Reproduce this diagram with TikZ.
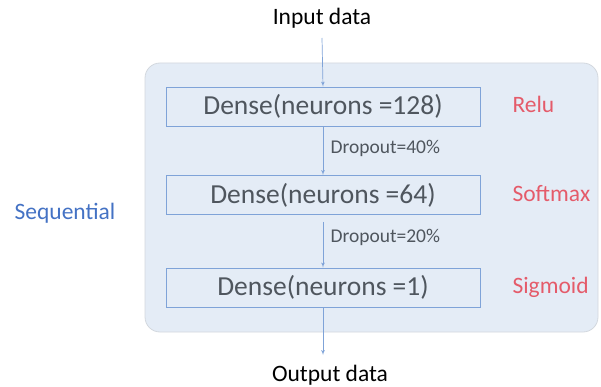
\documentclass[tikz,border=0pt]{standalone}
\usepackage{fontspec}
\setmainfont{Carlito}
\usepackage{tikz}
\usetikzlibrary{arrows,positioning}
\definecolor{seqblue}{HTML}{4472C4}
\definecolor{panelfill}{HTML}{E4ECF6}
\definecolor{panelgray}{HTML}{D3D8DE}
\definecolor{boxline}{HTML}{7FA3D8}
\definecolor{actred}{HTML}{E45B6A}
\definecolor{densegray}{HTML}{4F565E}
\tikzstyle{line} = [draw=boxline, line width=0.7pt, -latex']
\tikzstyle{dense} = [rectangle, draw=boxline, line width=0.8pt, fill=panelfill, minimum width=314pt, minimum height=39pt, text=densegray, font=\fontsize{27.5}{27.5}\selectfont]
\tikzstyle{act} = [anchor=west, text=actred, font=\fontsize{23.5}{23.5}\selectfont]
\tikzstyle{drop} = [anchor=west, text=densegray, font=\fontsize{19.5}{19.5}\selectfont]
\tikzstyle{io} = [text=black, font=\fontsize{23.5}{23.5}\selectfont]

\begin{document}
\begin{tikzpicture}[x=1pt, y=-1pt]
\useasboundingbox (0,0) rectangle (601,387);
\draw [panelgray, fill=panelfill, line width=0.8pt, rounded corners=15pt] (145,63) rectangle (598,332);

\node [io] (input) at (322,18) {Input data};
\node [dense] (d1) at (323,106.5) {Dense(neurons =128)};
\node [dense] (d2) at (323,195) {Dense(neurons =64)};
\node [dense] (d3) at (323,287.5) {Dense(neurons =1)};
\node [io] (output) at (330,375) {Output data};

\node [act] (relu) at (509,104) {Relu};
\node [act] (softmax) at (509,194) {Softmax};
\node [act] (sigmoid) at (509,287) {Sigmoid};

\node [text=seqblue, font=\fontsize{23.5}{23.5}\selectfont] (seq) at (65,213) {Sequential};

\path [line] (input.south |- 0,38) to (d1.north);
\path [line] (d1.south) to (d2.north);
\path [line, shorten <=7pt] (d2.south) to (d3.north);
\path [line] (d3.south) to (d3.south |- 0,355);

\node [drop] (drop1) at (327,148) {Dropout=40\%};
\node [drop] (drop2) at (327,237) {Dropout=20\%};
\end{tikzpicture}
\end{document}
